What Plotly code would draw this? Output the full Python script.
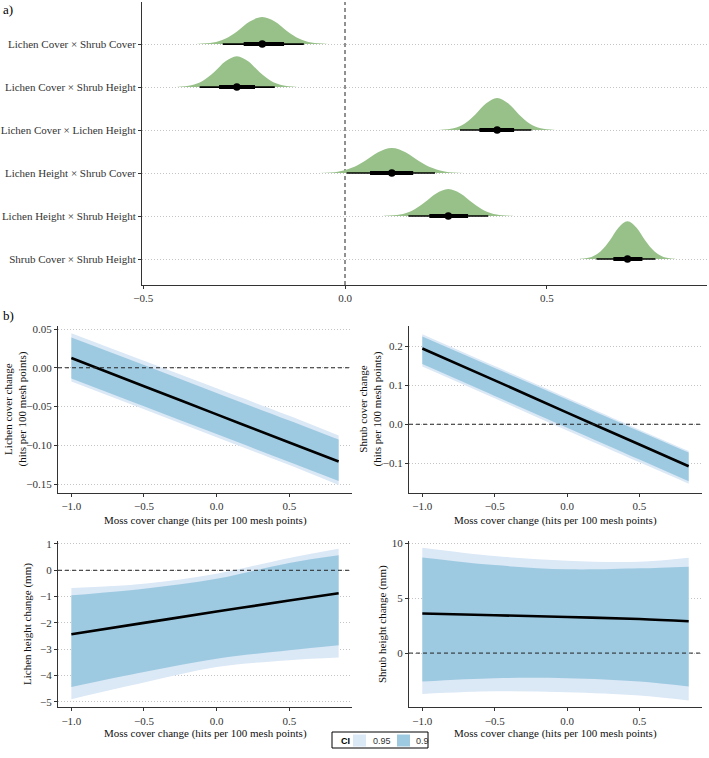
import plotly.graph_objects as go

# ---------------- Data ----------------
# Panel a) posterior densities (rows listed top to bottom)
categories = [
    "Lichen Cover × Shrub Cover",
    "Lichen Cover × Shrub Height",
    "Lichen Cover × Lichen Height",
    "Lichen Height × Shrub Cover",
    "Lichen Height × Shrub Height",
    "Shrub Cover × Shrub Height",
]
dens_x = [
    [-0.368, -0.327, -0.297, -0.266, -0.236, -0.205, -0.174, -0.144, -0.113, -0.083, -0.042],
    [-0.418, -0.381, -0.353, -0.324, -0.296, -0.268, -0.240, -0.212, -0.183, -0.155, -0.118],
    [0.233, 0.269, 0.296, 0.323, 0.350, 0.377, 0.404, 0.431, 0.458, 0.485, 0.521],
    [-0.063, -0.018, 0.015, 0.049, 0.082, 0.116, 0.150, 0.183, 0.217, 0.250, 0.295],
    [0.096, 0.136, 0.166, 0.196, 0.226, 0.256, 0.286, 0.316, 0.346, 0.376, 0.416],
    [0.582, 0.611, 0.633, 0.656, 0.678, 0.700, 0.722, 0.744, 0.767, 0.789, 0.818],
]
dens_h = [
    [0.004, 0.035, 0.125, 0.307, 0.526, 0.630, 0.526, 0.307, 0.125, 0.035, 0.004],
    [0.004, 0.040, 0.143, 0.351, 0.601, 0.720, 0.601, 0.351, 0.143, 0.040, 0.004],
    [0.004, 0.042, 0.148, 0.363, 0.622, 0.745, 0.622, 0.363, 0.148, 0.042, 0.004],
    [0.003, 0.032, 0.115, 0.282, 0.484, 0.580, 0.484, 0.282, 0.115, 0.032, 0.003],
    [0.004, 0.035, 0.125, 0.307, 0.526, 0.630, 0.526, 0.307, 0.125, 0.035, 0.004],
    [0.005, 0.049, 0.174, 0.429, 0.735, 0.880, 0.735, 0.429, 0.174, 0.049, 0.005],
]
medians = [-0.205, -0.268, 0.377, 0.116, 0.256, 0.700]
lo66 = [-0.251, -0.312, 0.333, 0.062, 0.209, 0.665]
hi66 = [-0.151, -0.223, 0.419, 0.169, 0.305, 0.737]
lo95 = [-0.303, -0.360, 0.285, 0.004, 0.157, 0.623]
hi95 = [-0.102, -0.174, 0.462, 0.223, 0.355, 0.769]

# Panel b) fitted lines with credible ribbons
moss_x = [-1.0, -0.5, 0.0, 0.5, 0.84]

lc_fit = [0.0125, -0.0238, -0.0601, -0.0964, -0.121]
lc_90_lo = [-0.0138, -0.0497, -0.0856, -0.1215, -0.146]
lc_90_hi = [0.039, 0.0035, -0.0326, -0.068, -0.0927]
lc_95_lo = [-0.0177, -0.0535, -0.0895, -0.1255, -0.1513]
lc_95_hi = [0.0446, 0.009, -0.0265, -0.062, -0.0875]

sc_fit = [0.195, 0.113, 0.030, -0.052, -0.108]
sc_90_lo = [0.155, 0.073, -0.009, -0.091, -0.147]
sc_90_hi = [0.226, 0.145, 0.064, -0.018, -0.073]
sc_95_lo = [0.149, 0.067, -0.016, -0.098, -0.153]
sc_95_hi = [0.232, 0.150, 0.068, -0.014, -0.069]

lh_fit = [-2.43, -2.00, -1.57, -1.15, -0.87]
lh_90_lo = [-4.44, -3.87, -3.36, -3.04, -2.85]
lh_90_hi = [-0.95, -0.70, -0.32, 0.28, 0.57]
lh_95_lo = [-4.90, -4.27, -3.68, -3.42, -3.32]
lh_95_hi = [-0.67, -0.51, -0.13, 0.47, 0.82]

sh_fit = [3.60, 3.45, 3.29, 3.10, 2.90]
sh_90_lo = [-2.59, -2.29, -2.29, -2.59, -3.05]
sh_90_hi = [8.72, 8.02, 7.63, 7.72, 7.87]
sh_95_lo = [-3.72, -3.48, -3.57, -3.87, -4.33]
sh_95_hi = [9.60, 8.84, 8.41, 8.32, 8.69]

ci_labels = ["0.95", "0.9"]
x_title = "Moss cover change (hits per 100 mesh points)"
y_titles = ["Lichen cover change<br>(hits per 100 mesh points)",
            "Shrub cover change<br>(hits per 100 mesh points)",
            "Lichen height change (mm)", "Shrub height change (mm)"]

# ---------------- Styles ----------------
SERIF = "Liberation Serif, Times New Roman, serif"
SANS = "Liberation Sans, Arial, sans-serif"
GREEN = "#97c189"
LIGHT = "#dbe8f6"
DARK = "#9ecae1"
AXC = "#333333"
GRID = "#c4c4c4"
W, H = 709, 758

def px_x(p):
    return p / W

def px_y(p):
    return (H - p) / H

fig = go.Figure()

# ---------------- Panel a ----------------
n = len(categories)
row_pos = [n - i for i in range(n)]
for i in range(n):
    base = row_pos[i]
    fig.add_trace(go.Scatter(x=dens_x[i], y=[base] * len(dens_x[i]), mode="lines",
                             line=dict(width=0, color=GREEN), showlegend=False,
                             hoverinfo="skip", xaxis="x", yaxis="y"))
    fig.add_trace(go.Scatter(x=dens_x[i], y=[base + h for h in dens_h[i]], mode="lines",
                             line=dict(width=0, color=GREEN, shape="spline"),
                             fill="tonexty", fillcolor=GREEN, showlegend=False,
                             xaxis="x", yaxis="y"))
    fig.add_trace(go.Scatter(x=[lo95[i], hi95[i]], y=[base, base], mode="lines",
                             line=dict(width=1.6, color="black"), showlegend=False,
                             xaxis="x", yaxis="y"))
    fig.add_trace(go.Scatter(x=[lo66[i], hi66[i]], y=[base, base], mode="lines",
                             line=dict(width=4, color="black"), showlegend=False,
                             xaxis="x", yaxis="y"))
    fig.add_trace(go.Scatter(x=[medians[i]], y=[base], mode="markers",
                             marker=dict(size=7.5, color="black"), showlegend=False,
                             xaxis="x", yaxis="y"))

# ---------------- Panel b ----------------
panels = [
    ("x2", "y2", lc_fit, lc_95_lo, lc_95_hi, lc_90_lo, lc_90_hi),
    ("x3", "y3", sc_fit, sc_95_lo, sc_95_hi, sc_90_lo, sc_90_hi),
    ("x4", "y4", lh_fit, lh_95_lo, lh_95_hi, lh_90_lo, lh_90_hi),
    ("x5", "y5", sh_fit, sh_95_lo, sh_95_hi, sh_90_lo, sh_90_hi),
]
for k, (xa, ya, fit, l95, h95, l90, h90) in enumerate(panels):
    for (lo, hi, col, lab) in [(l95, h95, LIGHT, ci_labels[0]), (l90, h90, DARK, ci_labels[1])]:
        fig.add_trace(go.Scatter(x=moss_x, y=lo, mode="lines",
                                 line=dict(width=0, color=col, shape="spline"),
                                 showlegend=False, hoverinfo="skip", xaxis=xa, yaxis=ya))
        fig.add_trace(go.Scatter(x=moss_x, y=hi, mode="lines",
                                 line=dict(width=0, color=col, shape="spline"),
                                 fill="tonexty", fillcolor=col, name=lab,
                                 showlegend=False, xaxis=xa, yaxis=ya))
    fig.add_trace(go.Scatter(x=moss_x, y=fit, mode="lines",
                             line=dict(width=2.6, color="black", shape="spline"),
                             showlegend=False, xaxis=xa, yaxis=ya))

# ---------------- Axes ----------------
tickfont = dict(family=SERIF, size=11, color="#333333")
titlefont = dict(family=SERIF, size=11, color="#111111")
common = dict(showline=True, linecolor=AXC, linewidth=1, ticks="outside", ticklen=3,
              tickcolor=AXC, tickwidth=1, tickfont=tickfont, zeroline=False, mirror=False,
              automargin=False)
ygrid = dict(showgrid=True, gridcolor=GRID, griddash="1px,2px", gridwidth=1)

layout = dict(
    template="none",
    width=W, height=H, margin=dict(l=0, r=0, t=0, b=0, autoexpand=False),
    paper_bgcolor="white", plot_bgcolor="white", showlegend=False,
    xaxis=dict(domain=[px_x(142), px_x(707)], range=[-0.503, 0.897], anchor="y",
               tickvals=[-0.5, 0.0, 0.5], tickformat=".1f", showgrid=False, **common),
    yaxis=dict(domain=[px_y(285), px_y(2)], range=[0.395, 6.98], anchor="x",
               tickvals=row_pos, ticktext=categories, **ygrid, **common),
)
bx_px = [[58, 352], [409, 702]]
by_px = [[326, 493], [540.7, 707.3]]
yranges = [[-0.1616, 0.0539], [-0.177, 0.253], [-5.21, 1.125], [-4.94, 10.24]]
yticks = [[-0.15, -0.10, -0.05, 0.0, 0.05], [-0.1, 0.0, 0.1, 0.2],
          [-5, -4, -3, -2, -1, 0, 1], [0, 5, 10]]
yfmts = [".2f", ".1f", "d", "d"]
ytitle_x = [15, 370, 27, 382]
xtitle_y = [520, 520, 733, 733]
for k in range(4):
    xi, yi = k + 2, k + 2
    col, row = k % 2, k // 2
    layout[f"xaxis{xi}"] = dict(domain=[px_x(bx_px[col][0]), px_x(bx_px[col][1])],
                                range=[-1.092, 0.932], anchor=f"y{yi}",
                                tickvals=[-1.0, -0.5, 0.0, 0.5], tickformat=".1f",
                                showgrid=False, **common)
    layout[f"yaxis{yi}"] = dict(domain=[px_y(by_px[row][1]), px_y(by_px[row][0])],
                                range=yranges[k], anchor=f"x{xi}",
                                tickvals=yticks[k], tickformat=yfmts[k],
                                **ygrid, **common)
fig.update_layout(**layout)

# axis titles as annotations
for k in range(4):
    col, row = k % 2, k // 2
    fig.add_annotation(text=x_title, xref="paper", yref="paper",
                       x=px_x((bx_px[col][0] + bx_px[col][1]) / 2), y=px_y(xtitle_y[k]),
                       xanchor="center", yanchor="middle", showarrow=False, font=titlefont)
    fig.add_annotation(text=y_titles[k], xref="paper", yref="paper", textangle=-90,
                       x=px_x(ytitle_x[k]), y=px_y((by_px[row][0] + by_px[row][1]) / 2),
                       xanchor="center", yanchor="middle", showarrow=False, font=titlefont)

# reference lines at zero
fig.add_shape(type="line", xref="x", yref="y domain", x0=0, x1=0, y0=0, y1=1,
              line=dict(color="#222222", width=1, dash="4px,3px"), layer="below")
for k in range(4):
    fig.add_shape(type="line", xref=f"x{k+2} domain", yref=f"y{k+2}", x0=0, x1=1, y0=0, y1=0,
                  line=dict(color="#222222", width=1, dash="4px,3px"), layer="above")

# panel labels
fig.add_annotation(text="a)", x=0.002, y=px_y(10), xref="paper", yref="paper",
                   showarrow=False, xanchor="left", yanchor="middle",
                   font=dict(family=SERIF, size=13, color="black"))
fig.add_annotation(text="b)", x=0.002, y=px_y(315), xref="paper", yref="paper",
                   showarrow=False, xanchor="left", yanchor="middle",
                   font=dict(family=SERIF, size=13, color="black"))

# legend (CI) drawn as a small key box
fig.add_shape(type="rect", xref="paper", yref="paper",
              x0=px_x(332), x1=px_x(428), y0=px_y(748), y1=px_y(732),
              line=dict(color="black", width=1), fillcolor="white")
fig.add_annotation(text="<b>CI</b>", xref="paper", yref="paper", x=px_x(339), y=px_y(740.5),
                   xanchor="left", yanchor="middle", showarrow=False,
                   font=dict(family=SANS, size=9, color="black"))
key_x = [(353, 366, 371), (397, 410, 414)]
for (a, b, t), col, lab in zip(key_x, [LIGHT, DARK], ci_labels):
    fig.add_shape(type="rect", xref="paper", yref="paper",
                  x0=px_x(a), x1=px_x(b), y0=px_y(746.5), y1=px_y(734.5),
                  line=dict(width=0), fillcolor=col)
    fig.add_annotation(text=lab, xref="paper", yref="paper", x=px_x(t), y=px_y(740.5),
                       xanchor="left", yanchor="middle", showarrow=False,
                       font=dict(family=SANS, size=9, color="#333333"))

fig.write_html("out.html")
